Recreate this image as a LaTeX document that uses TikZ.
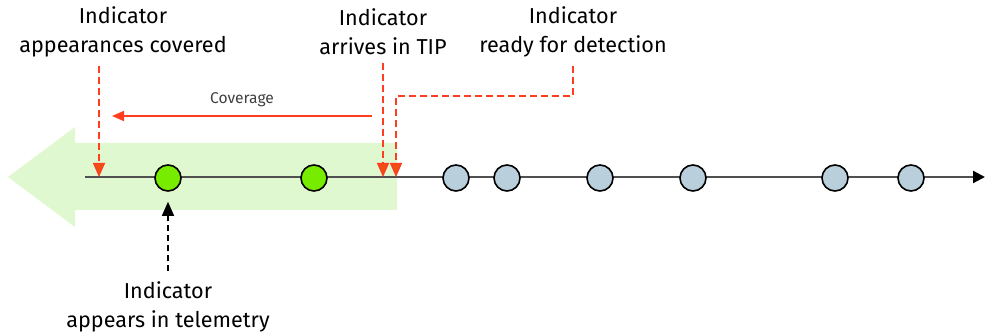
\documentclass[tikz,border=0pt]{standalone}
\usepackage{fontspec}
\setmainfont{Fira Sans}
\usepackage{xcolor}
\usetikzlibrary{arrows.meta,positioning}

\definecolor{bandgreen}{HTML}{E0F8CF}
\definecolor{hitgreen}{HTML}{78EC00}
\definecolor{missblue}{HTML}{B9CFDB}
\definecolor{markred}{HTML}{FF3D1F}
\definecolor{markhead}{HTML}{EE5014}
\definecolor{axisgray}{HTML}{505050}

\begin{document}
\begin{tikzpicture}[
  x=0.5pt, y=-0.5pt,
  caption/.style={align=center, font=\fontsize{10.8}{14.5}\selectfont, inner sep=1pt},
  hit/.style={circle, draw, line width=0.8pt, fill=hitgreen, minimum size=13pt, inner sep=0pt},
  miss/.style={circle, draw, line width=0.8pt, fill=missblue, minimum size=13pt, inner sep=0pt},
  marker/.style={-{Triangle[length=7pt,width=6pt,fill=markhead]}, markred, line width=0.7pt, dash pattern=on 3.5pt off 2pt},
  arr/.style={-{Triangle[length=6pt,width=5pt]}, markred, line width=0.8pt}
]
\useasboundingbox (0,0) rectangle (985,335);

% Coverage band
\fill[bandgreen] (397,143) -- (75,143) -- (75,127) -- (8,177)
  -- (75,227) -- (75,210) -- (397,210) -- cycle;

% Timeline
\coordinate (tstart) at (85,177);
\coordinate (tend) at (985,177);
\draw[axisgray, line width=1.1pt, -{Triangle[length=6pt,width=6pt,color=black]}] (tstart) -- (tend);

% Appearances
\node[hit] (h1) at (168,178) {};
\node[hit] (h2) at (314,178) {};
\foreach \x [count=\i] in {456,507,600,693,835,911}
  \node[miss] (m\i) at (\x,178) {};

% Labels
\node[caption] (covered) at (123,32) {Indicator\\appearances covered};
\node[caption] (arrives) at (383,32) {Indicator\\arrives in TIP};
\node[caption] (ready) at (573,32) {Indicator\\ready for detection};
\node[caption] (appears) at (168,307) {Indicator\\appears in telemetry};

% Markers on the timeline
\coordinate (tipA) at (99,177);
\coordinate (tipB) at (383,177);
\coordinate (tipC) at (396,177);
\coordinate (bend) at (396,96);
\draw[marker, shorten <=3pt] (tipA |- covered.south) -- (tipA);
\draw[marker, shorten <=3pt] (arrives.south) -- (tipB);
\draw[marker, shorten <=3pt] (ready.south) |- (bend) -- (tipC);

% Coverage arrow
\coordinate (covR) at (372,116);
\coordinate (covL) at (112,116);
\draw[arr] (covR) -- node[above=1pt, font=\fontsize{7.8}{9}\selectfont, text=black!75] {Coverage} (covL);

% Telemetry arrow
\draw[-{Triangle[length=7pt,width=6pt]}, line width=0.7pt, dash pattern=on 3pt off 2pt,
  shorten <=4pt, shorten >=5pt]
  (appears.north) -- (h1.south);
\end{tikzpicture}
\end{document}
